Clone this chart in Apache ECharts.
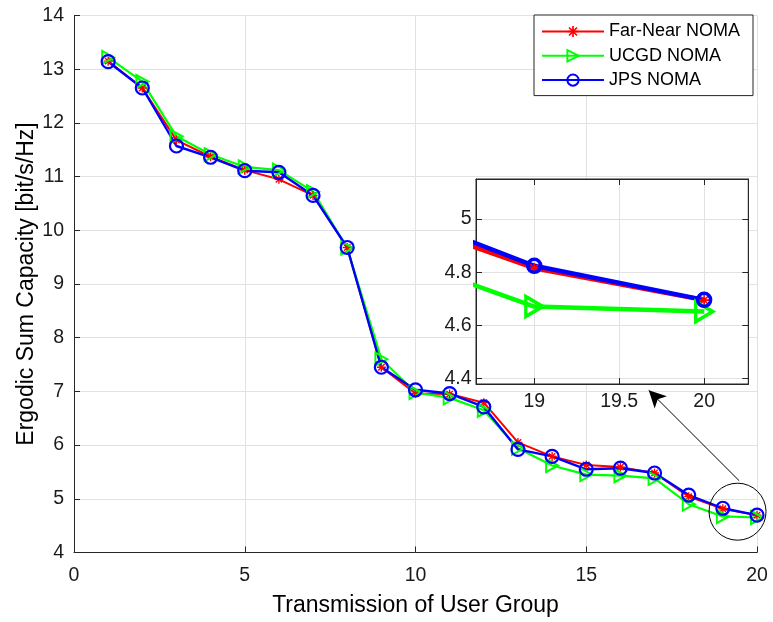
<!DOCTYPE html>
<html><head><meta charset="utf-8">
<script src="https://cdn.jsdelivr.net/npm/echarts@6/dist/echarts.min.js"></script>
<style>html,body{margin:0;padding:0;background:#fff}#c{width:773px;height:622px}</style>
</head><body><div id="c"></div>
<script>
// ---- data ----
const userGroups = [1,2,3,4,5,6,7,8,9,10,11,12,13,14,15,16,17,18,19,20];
const farNearNoma = [13.15,12.65,11.68,11.37,11.12,10.95,10.65,9.68,7.45,6.96,6.95,6.79,6.05,5.79,5.63,5.59,5.48,5.04,4.815,4.695];
const ucgdNoma    = [13.22,12.77,11.75,11.41,11.18,11.12,10.72,9.67,7.60,6.98,6.88,6.65,5.94,5.62,5.45,5.43,5.38,4.90,4.671,4.652];
const jpsNoma     = [13.14,12.65,11.57,11.36,11.11,11.08,10.65,9.68,7.45,7.03,6.96,6.71,5.92,5.79,5.55,5.57,5.48,5.07,4.824,4.696];
const seriesNames = ['Far-Near NOMA','UCGD NOMA','JPS NOMA'];
const mainXRange = [0, 20];
const mainYRange = [4, 14];
const insetXRange = [18.657, 20.26];
const insetYRange = [4.38, 5.15];
const zoomCircleCenter = [19.43, 4.76];
const arrowHeadPoint = [16.83, 7.02];
const arrowTailPoint = [19.48, 5.335];

const pairs = arr => userGroups.map((x,i)=>[x, arr[i]]);
const FONT = 'Liberation Sans, Arial, Helvetica, sans-serif';
const TXT = '#1a1a1a';
const AX = '#262626';
const GRIDC = '#e2e2e2';
const ASTER = 'path://M8.5,0L11.5,0L11.5,20L8.5,20Z M0,8.5L20,8.5L20,11.5L0,11.5Z M3.96,1.84L18.16,16.04L16.04,18.16L1.84,3.96Z M16.04,1.84L18.16,3.96L3.96,18.16L1.84,16.04Z';
const RED='#ff0000', GREEN='#00ff00', BLUE='#0000ff';
const CLEAR='rgba(0,0,0,0)';

function mkSeries(isInset){
  const g = isInset ? 1 : 0;
  const lw = isInset ? 4.5 : 2;
  const z = isInset ? 6 : 2;
  return [
    {name:seriesNames[0], type:'line', xAxisIndex:g, yAxisIndex:g, data:pairs(farNearNoma), z:z,
     symbol:ASTER, symbolSize:isInset?11:9, showAllSymbol:true,
     lineStyle:{color:RED,width:lw}, itemStyle:{color:RED}},
    {name:seriesNames[1], type:'line', xAxisIndex:g, yAxisIndex:g, data:pairs(ucgdNoma), z:z,
     symbol:'triangle', symbolRotate:-90, symbolSize:isInset?[20,17]:[13,12], showAllSymbol:true,
     lineStyle:{color:GREEN,width:isInset?lw:2.2}, itemStyle:{color:CLEAR,borderColor:GREEN,borderWidth:isInset?3.5:2}},
    {name:seriesNames[2], type:'line', xAxisIndex:g, yAxisIndex:g, data:pairs(jpsNoma), z:z,
     symbol:'circle', symbolSize:13, showAllSymbol:true,
     lineStyle:{color:BLUE,width:isInset?lw:2.4}, itemStyle:{color:CLEAR,borderColor:BLUE,borderWidth:isInset?3.5:2.2},
     markPoint: isInset ? undefined : {
       silent:true, symbol:'circle', symbolSize:57,
       itemStyle:{color:CLEAR,borderColor:'#000',borderWidth:1},
       label:{show:false},
       data:[{coord:zoomCircleCenter}]
     },
     markLine: isInset ? undefined : {
       silent:true, symbolSize:[13,17],
       lineStyle:{color:'#000',width:1,type:'solid'},
       label:{show:false},
       data:[[{coord:arrowHeadPoint, symbol:'arrow'},{coord:arrowTailPoint, symbol:'none'}]]
     }
    }
  ];
}

const tickLabel = {fontSize:19.5, color:TXT, fontFamily:FONT};
const chart = echarts.init(document.getElementById('c'), null, {renderer:'canvas'});
chart.setOption({
  animation:false,
  backgroundColor:'#fff',
  textStyle:{fontFamily:FONT},
  grid:[
    {left:74, right:16, top:15.5, bottom:68.5},
    {left:476, top:179, width:272.3, height:205, show:true, backgroundColor:'#fff', borderColor:AX, borderWidth:1, z:3}
  ],
  legend:{
    data:seriesNames, orient:'vertical', left:534, top:15,
    padding:[7.5,13,6.5,7], itemGap:6.3, itemWidth:62, itemHeight:14, itemTextGap:6,
    backgroundColor:'#fff', borderColor:AX, borderWidth:1, z:10,
    textStyle:{fontSize:18, color:'#000', fontFamily:FONT}
  },
  xAxis:[
    {gridIndex:0, type:'value', min:mainXRange[0], max:mainXRange[1], interval:5,
     name:'Transmission of User Group', nameLocation:'middle', nameGap:41.5, nameMoveOverlap:false,
     nameTextStyle:{fontSize:23, color:'#000', fontFamily:FONT},
     axisLine:{lineStyle:{color:AX,width:1}}, axisTick:{inside:true,length:6,lineStyle:{color:AX}},
     axisLabel:Object.assign({margin:13}, tickLabel),
     splitLine:{show:true,lineStyle:{color:GRIDC,width:1}}},
    {gridIndex:1, type:'value', min:insetXRange[0], max:insetXRange[1], splitNumber:3, z:4,
     axisLine:{lineStyle:{color:AX,width:1}}, axisTick:{inside:true,length:6,lineStyle:{color:AX}},
     axisLabel:Object.assign({margin:8, showMinLabel:false, showMaxLabel:false}, tickLabel),
     splitLine:{show:true,showMinLine:false,showMaxLine:false,lineStyle:{color:GRIDC,width:1}}},
    {gridIndex:1, type:'value', position:'top', min:insetXRange[0], max:insetXRange[1], splitNumber:3, z:4,
     axisLine:{lineStyle:{color:AX,width:1}}, axisTick:{inside:true,length:6,lineStyle:{color:AX}},
     axisLabel:{show:false}, splitLine:{show:false}}
  ],
  yAxis:[
    {gridIndex:0, type:'value', min:mainYRange[0], max:mainYRange[1], interval:1,
     name:'Ergodic Sum Capacity [bit/s/Hz]', nameLocation:'middle', nameGap:36, nameMoveOverlap:false,
     nameTextStyle:{fontSize:23, color:'#000', fontFamily:FONT},
     axisLine:{show:true,lineStyle:{color:AX,width:1}}, axisTick:{show:true,inside:true,length:6,lineStyle:{color:AX}},
     axisLabel:Object.assign({margin:10}, tickLabel),
     splitLine:{show:true,lineStyle:{color:GRIDC,width:1}}},
    {gridIndex:1, type:'value', min:insetYRange[0], max:insetYRange[1], splitNumber:4, z:4,
     axisLine:{show:true,lineStyle:{color:AX,width:1}}, axisTick:{show:true,inside:true,length:6,lineStyle:{color:AX}},
     axisLabel:Object.assign({margin:4.5, showMinLabel:false, showMaxLabel:false}, tickLabel),
     splitLine:{show:true,showMinLine:false,showMaxLine:false,lineStyle:{color:GRIDC,width:1}}},
    {gridIndex:1, type:'value', position:'right', min:insetYRange[0], max:insetYRange[1], splitNumber:4, z:4,
     axisLine:{show:true,lineStyle:{color:AX,width:1}}, axisTick:{show:true,inside:true,length:6,lineStyle:{color:AX}},
     axisLabel:{show:false}, splitLine:{show:false}}
  ],
  series: mkSeries(false).concat(mkSeries(true))
});
</script>
</body></html>
